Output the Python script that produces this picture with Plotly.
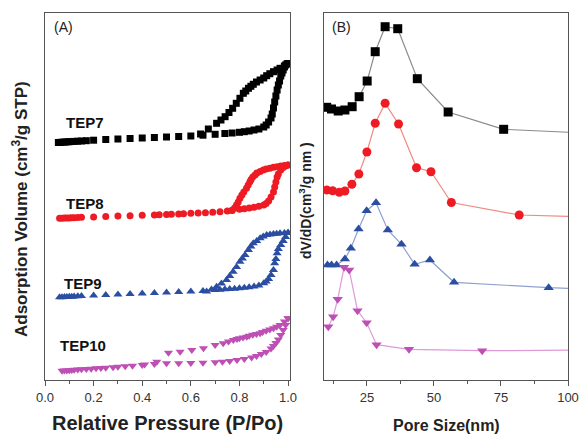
import plotly.graph_objects as go

# ---------- (A) N2 isotherms: relative pressure vs. adsorbed volume (offset, a.u.) ----------
p_ads_tep7 = [0.055, 0.065, 0.075, 0.085, 0.095, 0.105, 0.12, 0.135, 0.15, 0.17, 0.2, 0.25, 0.3, 0.35,
              0.4, 0.45, 0.5, 0.55, 0.6, 0.65, 0.7, 0.74, 0.77, 0.8, 0.82, 0.84, 0.86, 0.88, 0.9, 0.91,
              0.92, 0.93, 0.935, 0.94, 0.945, 0.95, 0.955, 0.96, 0.965, 0.97, 0.975, 0.98, 0.985, 0.99,
              0.995, 1.0]
v_ads_tep7 = [237.5, 237.7, 237.9, 238, 238.2, 238.4, 238.6, 238.8, 239, 239.3, 239.8, 240.5, 241, 241.5,
              242, 242.5, 243, 243.5, 244, 244.8, 245.7, 246.5, 247, 247.7, 248.3, 249, 250, 251, 253, 255,
              258, 262, 266, 272, 278, 284, 290, 295, 299, 304, 307, 310, 313, 315, 316, 316.5]
p_des_tep7 = [1.0, 0.985, 0.967, 0.955, 0.94, 0.925, 0.912, 0.9, 0.885, 0.87, 0.857, 0.847, 0.837, 0.826,
              0.816, 0.802, 0.787, 0.772, 0.757, 0.741, 0.724, 0.706, 0.672, 0.64]
v_des_tep7 = [316.5, 314, 311.7, 310, 308.3, 306.3, 304.3, 302, 300, 298, 295.7, 293.7, 291.7, 289,
              286.7, 281.7, 276.7, 271.7, 267.5, 263.3, 260, 256.7, 251, 246]

p_ads_tep8 = [0.06, 0.07, 0.08, 0.09, 0.1, 0.11, 0.12, 0.135, 0.15, 0.2, 0.25, 0.3, 0.35, 0.4, 0.45, 0.47,
              0.5, 0.52, 0.55, 0.57, 0.6, 0.63, 0.66, 0.69, 0.72, 0.75, 0.77, 0.8, 0.82, 0.84, 0.86, 0.88,
              0.9, 0.91, 0.92, 0.93, 0.94, 0.945, 0.95, 0.955, 0.96, 0.97, 0.98, 0.99, 1.0]
v_ads_tep8 = [161.7, 161.8, 162, 162, 162.1, 162.2, 162.3, 162.5, 162.7, 163, 163.5, 164, 164.3, 164.7,
              165, 165.2, 165.5, 165.8, 166, 166.3, 166.7, 167, 167.3, 167.7, 168.3, 169, 169.7, 170.7,
              171.3, 172, 172.7, 173.7, 175, 176.5, 179, 183, 188, 193, 198, 203, 206, 210, 212.5, 214, 215]
p_des_tep8 = [1.0, 0.985, 0.97, 0.955, 0.94, 0.925, 0.91, 0.898, 0.885, 0.872, 0.864, 0.855, 0.848, 0.843,
              0.836, 0.829, 0.818, 0.81, 0.802, 0.795, 0.788, 0.78, 0.77]
v_des_tep8 = [215, 214.5, 214, 213.3, 212.7, 211.7, 211, 210, 208.5, 207, 205, 203, 200.5, 198.3,
              195, 191.7, 188, 185, 181.7, 178, 175, 172, 169.5]

p_ads_tep9 = [0.06, 0.07, 0.08, 0.09, 0.1, 0.11, 0.12, 0.135, 0.15, 0.2, 0.25, 0.3, 0.35, 0.4, 0.45, 0.5,
              0.55, 0.6, 0.65, 0.7, 0.72, 0.74, 0.76, 0.78, 0.8, 0.82, 0.84, 0.86, 0.88, 0.9, 0.91, 0.92,
              0.93, 0.94, 0.945, 0.95, 0.955, 0.96, 0.97, 0.98, 0.99, 1.0]
v_ads_tep9 = [82.7, 82.8, 83, 83, 83.2, 83.3, 83.5, 83.7, 84, 84.5, 85, 85.5, 86, 86.5, 87, 87.5, 88,
              88.5, 89, 90, 90.3, 90.7, 91, 91.3, 91.7, 92.2, 92.8, 93.5, 94.5, 96.7, 98.5, 101, 105, 110,
              116.7, 121, 126.7, 131, 135, 139, 143, 147.3]
p_des_tep9 = [1.0, 0.985, 0.967, 0.953, 0.94, 0.926, 0.912, 0.898, 0.885, 0.871, 0.857, 0.847, 0.837,
              0.823, 0.812, 0.802, 0.788, 0.774, 0.76, 0.747, 0.726, 0.706, 0.685, 0.665]
v_des_tep9 = [147.3, 147, 146.7, 146.3, 146, 145.5, 145, 143.5, 141.7, 139, 136.7, 133.5, 130, 125, 121.5,
              118.3, 113, 108.3, 104, 100, 96.5, 93.3, 90.5, 88.5]

p_ads_tep10 = [0.07, 0.08, 0.09, 0.1, 0.11, 0.12, 0.135, 0.15, 0.17, 0.19, 0.21, 0.23, 0.25, 0.28, 0.3,
               0.33, 0.36, 0.4, 0.45, 0.5, 0.55, 0.6, 0.65, 0.7, 0.73, 0.76, 0.79, 0.82, 0.85, 0.87, 0.89,
               0.91, 0.93, 0.94, 0.95, 0.96, 0.97, 0.98, 0.99, 1.0]
v_ads_tep10 = [9.3, 9.4, 9.6, 9.8, 10, 10.2, 10.4, 10.7, 11, 11.3, 11.7, 12, 12.3, 12.8, 13.2, 13.8, 14.3,
               15, 16, 16.7, 16.8, 17, 17.3, 17.8, 18.3, 19, 20, 21, 22.5, 24, 26, 28, 31.5, 34, 37, 40.5,
               45, 50, 55, 61.7]
p_des_tep10 = [1.0, 0.985, 0.967, 0.953, 0.94, 0.925, 0.91, 0.895, 0.885, 0.87, 0.855, 0.84, 0.83, 0.815,
               0.8, 0.79, 0.775, 0.755, 0.733, 0.7, 0.652, 0.604, 0.556, 0.508, 0.46, 0.41]
v_des_tep10 = [61.7, 58.5, 55, 53.3, 51.7, 50.5, 49.3, 48, 46.7, 46, 45.3, 44.3, 43.3, 42.5, 41.7, 41,
               40, 38.5, 36.7, 35, 31.7, 30, 28.3, 27.3, 18.3, 15.5]

# ---------- (B) pore size distributions (offset, a.u.) ----------
d_tep7 = [10.0, 11.8, 14.3, 16.8, 19.5, 22.1, 25.1, 28.1, 31.8, 36.5, 43.8, 55.3, 76.0, 110.0]
f_tep7 = [272.7, 271, 269, 270, 273.3, 283.3, 299, 328.3, 353.3, 351.3, 301.3, 268, 250.7, 246.5]

d_tep8 = [10.0, 12.2, 14.7, 16.8, 19.4, 22.0, 25.0, 28.1, 31.8, 36.8, 43.5, 48.9, 56.5, 81.8, 110.0]
f_tep8 = [190, 189.3, 187.7, 189, 195.7, 206, 228, 256.7, 276.7, 256, 212.3, 208.3, 177.5, 165, 163]

d_tep9 = [10.3, 11.8, 13.7, 16.8, 19.0, 21.9, 24.9, 28.4, 32.8, 37.9, 42.8, 48.5, 57.5, 92.8, 110.0]
f_tep9 = [115, 115, 115, 121, 131.7, 151, 169.3, 177.3, 150, 135.7, 115.7, 120, 97.7, 92.3, 90.8]

d_tep10 = [10.6, 12.4, 14.1, 16.5, 18.4, 21.5, 24.9, 28.6, 40.7, 68.0, 110.0]
f_tep10 = [53.3, 63.3, 80.7, 112.7, 110, 69.3, 57.3, 35.3, 30.7, 29.3, 30]

samples = ["TEP7", "TEP8", "TEP9", "TEP10"]
colors = ["#000000", "#ee1b24", "#2b4ea2", "#bd4fb5"]
line_colors = ["#8a8a8a", "#f08a80", "#8fa0d0", "#df9ad8"]
symbols = ["square", "circle", "triangle-up", "triangle-down"]
label_x = [0.165, 0.165, 0.157, 0.157]
label_y = [258, 177, 97, 35]

iso = [
    (p_ads_tep7, v_ads_tep7, p_des_tep7, v_des_tep7),
    (p_ads_tep8, v_ads_tep8, p_des_tep8, v_des_tep8),
    (p_ads_tep9, v_ads_tep9, p_des_tep9, v_des_tep9),
    (p_ads_tep10, v_ads_tep10, p_des_tep10, v_des_tep10),
]
psd = [(d_tep7, f_tep7), (d_tep8, f_tep8), (d_tep9, f_tep9), (d_tep10, f_tep10)]

fig = go.Figure()

for i, name in enumerate(samples):
    pa, va, pd_, vd = iso[i]
    size_a = 7 if symbols[i] in ("square", "circle") else 8
    for px, vy in ((pa, va), (pd_, vd)):
        fig.add_trace(go.Scatter(
            x=px, y=vy, mode="markers", xaxis="x", yaxis="y", showlegend=False,
            marker=dict(symbol=symbols[i], color=colors[i], size=size_a, line=dict(width=0)),
        ))
    d, f = psd[i]
    fig.add_trace(go.Scatter(
        x=d, y=f, mode="lines+markers", xaxis="x2", yaxis="y2", showlegend=False,
        line=dict(color=line_colors[i], width=1.2),
        marker=dict(symbol=symbols[i], color=colors[i], size=9, line=dict(width=0)),
    ))

font_family = "Arial, Liberation Sans, sans-serif"
axis_common = dict(showline=True, mirror=True, linecolor="#555555", linewidth=1.2,
                   showgrid=False, zeroline=False, automargin=False)

y_dom = [1 - 380 / 434, 1 - 13 / 434]

fig.update_layout(
    width=580, height=434,
    margin=dict(l=0, r=0, t=0, b=0),
    paper_bgcolor="white", plot_bgcolor="white",
    font=dict(family=font_family, color="#333333"),
    xaxis=dict(domain=[45 / 580, 290 / 580], range=[0, 1.008], anchor="y",
               tickvals=[0, 0.2, 0.4, 0.6, 0.8, 1.0], ticktext=["0.0", "0.2", "0.4", "0.6", "0.8", "1.0"],
               ticks="outside", ticklen=5, tickwidth=1.2, tickcolor="#555555",
               minor=dict(tickvals=[0.1, 0.3, 0.5, 0.7, 0.9], ticks="outside", ticklen=3,
                          tickcolor="#555555", tickwidth=1),
               tickfont=dict(size=13, color="#333333"), **axis_common),
    yaxis=dict(domain=y_dom, range=[0, 367], anchor="x", showticklabels=False, ticks="",
               **axis_common),
    xaxis2=dict(domain=[324 / 580, 568 / 580], range=[9, 100], anchor="y2",
                tickvals=[25, 50, 75, 100], ticks="outside", ticklen=5, tickwidth=1.2,
                tickcolor="#555555",
                minor=dict(tickvals=[12.5, 37.5, 62.5, 87.5], ticks="outside", ticklen=3,
                           tickcolor="#555555", tickwidth=1),
                tickfont=dict(size=13, color="#333333"), **axis_common),
    yaxis2=dict(domain=y_dom, range=[0, 367], anchor="x2", showticklabels=False, ticks="",
                **axis_common),
)

annotations = []
for i, name in enumerate(samples):
    annotations.append(dict(x=label_x[i], y=label_y[i], xref="x", yref="y", text="<b>%s</b>" % name,
                            showarrow=False, font=dict(size=15, color="#111111", family=font_family)))

annotations += [
    dict(x=52 / 580, y=1 - 27 / 434, xref="paper", yref="paper", text="(A)", showarrow=False,
         xanchor="left", yanchor="middle", font=dict(size=14, color="#222222")),
    dict(x=330 / 580, y=1 - 27 / 434, xref="paper", yref="paper", text="(B)", showarrow=False,
         xanchor="left", yanchor="middle", font=dict(size=14, color="#222222")),
    dict(x=20 / 580, y=1 - 209 / 434, xref="paper", yref="paper",
         text="<b>Adsorption Volume (cm<sup>3</sup>/g STP)</b>", showarrow=False, textangle=-90,
         xanchor="center", yanchor="middle", font=dict(size=17, color="#222222")),
    dict(x=305 / 580, y=1 - 201 / 434, xref="paper", yref="paper",
         text="<b>dV/dD(cm<sup>3</sup>/g nm )</b>", showarrow=False, textangle=-90,
         xanchor="center", yanchor="middle", font=dict(size=14, color="#222222")),
    dict(x=167 / 580, y=1 - 423 / 434, xref="paper", yref="paper",
         text="<b>Relative Pressure (P/Po)</b>", showarrow=False,
         xanchor="center", yanchor="middle", font=dict(size=20, color="#222222")),
    dict(x=446 / 580, y=1 - 425 / 434, xref="paper", yref="paper",
         text="<b>Pore Size(nm)</b>", showarrow=False,
         xanchor="center", yanchor="middle", font=dict(size=16, color="#222222")),
]
fig.update_layout(annotations=annotations)

fig.write_html("out.html")
